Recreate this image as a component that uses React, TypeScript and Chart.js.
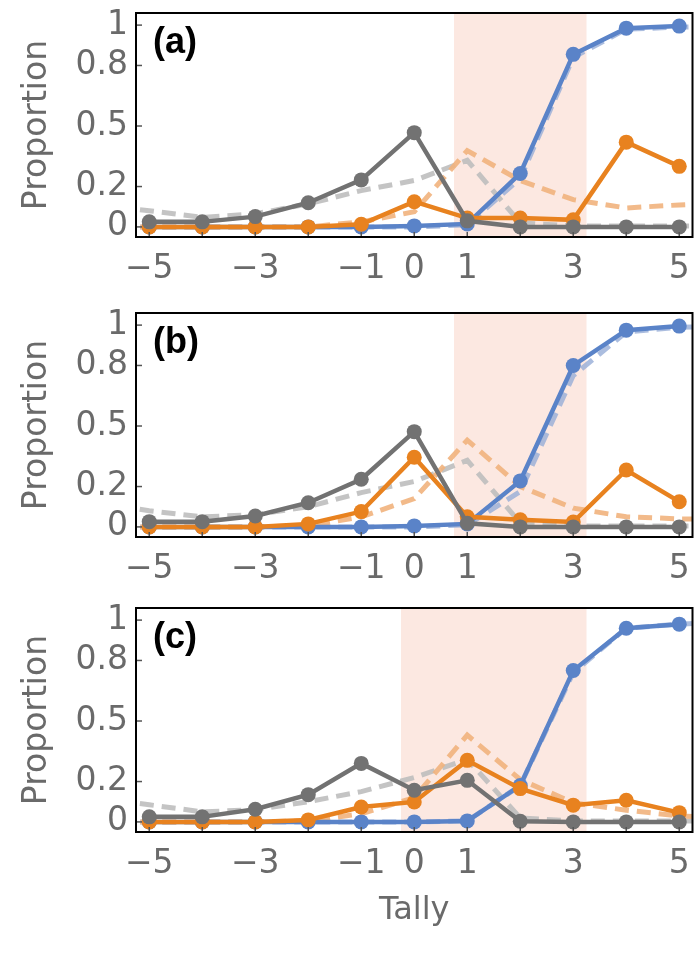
import React, { useEffect, useRef } from 'react';
import { Chart, registerables } from 'chart.js';

Chart.register(...registerables);

// ---------- data ----------
const tally = [-5, -4, -3, -2, -1, 0, 1, 2, 3, 4, 5];
const modelTally = [-6, -5, -4, -3, -2, -1, 0, 1, 2, 3, 4, 5, 6];
const xTickValues = [-5, -3, -1, 0, 1, 3, 5];
const xMarkValues = [-5, -4, -3, -2, -1, 0, 1, 2, 3, 4, 5];
const yTickValues = [0, 0.2, 0.5, 0.8, 1];
const panelLabels = ['(a)', '(b)', '(c)'];

// Panel (a)
const blueA = [0, 0, 0, 0, 0, 0.005, 0.015, 0.265, 0.855, 0.985, 0.995];
const orangeA = [0, 0, 0, 0, 0.013, 0.125, 0.044, 0.044, 0.035, 0.42, 0.3];
const grayA = [0.025, 0.025, 0.051, 0.12, 0.233, 0.467, 0.03, 0, 0, 0, 0];
const blueModelA = [0, 0, 0, 0, 0, 0, 0, 0.01, 0.24, 0.84, 0.98, 0.99, 0.995];
const orangeModelA = [0, 0, 0, 0, 0, 0.025, 0.075, 0.378, 0.23, 0.135, 0.094, 0.109, 0.12];
const grayModelA = [0.11, 0.08, 0.047, 0.065, 0.114, 0.18, 0.23, 0.33, 0.02, 0.005, 0.005, 0.005, 0.005];
const shadeA = [0.75, 3.25];

// Panel (b)
const blueB = [0, 0, 0, 0, 0, 0.005, 0.015, 0.228, 0.8, 0.975, 0.995];
const orangeB = [0, 0, 0, 0.015, 0.076, 0.345, 0.05, 0.035, 0.024, 0.282, 0.125];
const grayB = [0.026, 0.026, 0.054, 0.12, 0.236, 0.472, 0.018, 0, 0, 0, 0];
const blueModelB = [0, 0, 0, 0, 0, 0, 0, 0.01, 0.175, 0.75, 0.965, 0.99, 0.995];
const orangeModelB = [0, 0, 0, 0, 0.005, 0.05, 0.14, 0.43, 0.2, 0.093, 0.05, 0.04, 0.035];
const grayModelB = [0.12, 0.08, 0.05, 0.06, 0.1, 0.17, 0.225, 0.33, 0.02, 0.005, 0.005, 0.005, 0.005];
const shadeB = [0.75, 3.25];

// Panel (c)
const blueC = [0, 0, 0, 0, 0, 0, 0.005, 0.18, 0.75, 0.96, 0.98];
const orangeC = [0, 0, 0, 0.01, 0.074, 0.099, 0.305, 0.165, 0.083, 0.107, 0.046];
const grayC = [0.025, 0.025, 0.063, 0.135, 0.29, 0.157, 0.206, 0.003, 0, 0, 0];
const blueModelC = [0, 0, 0, 0, 0, 0, 0, 0.005, 0.18, 0.74, 0.96, 0.98, 0.99];
const orangeModelC = [0, 0, 0, 0, 0.005, 0.04, 0.12, 0.43, 0.21, 0.095, 0.058, 0.03, 0.02];
const grayModelC = [0.12, 0.085, 0.05, 0.06, 0.1, 0.15, 0.22, 0.31, 0.02, 0.005, 0.005, 0.005, 0.005];
const shadeC = [-0.25, 3.25];

// ---------- styles ----------
const BLUE = '#5a83c8';
const ORANGE = '#e8821f';
const GRAY = '#727272';
const BLUE_L = 'rgba(150,172,215,0.8)';
const ORANGE_L = 'rgba(241,178,125,0.9)';
const GRAY_L = 'rgba(190,190,190,0.9)';
const SHADE = '#fce8e1';
const TEXT = '#6a6a6a';
const FONT = 'DejaVu Sans';

type PanelCfg = {
  top: number;
  height: number;
  padTop: number;
  axisH: number;
  showTitle: boolean;
  label: string;
  shade: number[];
  blue: number[];
  orange: number[];
  gray: number[];
  blueM: number[];
  orangeM: number[];
  grayM: number[];
};

const panels: PanelCfg[] = [
  { top: 0, height: 300, padTop: 13, axisH: 63, showTitle: false, label: panelLabels[0], shade: shadeA,
    blue: blueA, orange: orangeA, gray: grayA, blueM: blueModelA, orangeM: orangeModelA, grayM: grayModelA },
  { top: 300, height: 300, padTop: 13, axisH: 63, showTitle: false, label: panelLabels[1], shade: shadeB,
    blue: blueB, orange: orangeB, gray: grayB, blueM: blueModelB, orangeM: orangeModelB, grayM: grayModelB },
  { top: 600, height: 353, padTop: 8, axisH: 121, showTitle: true, label: panelLabels[2], shade: shadeC,
    blue: blueC, orange: orangeC, gray: grayC, blueM: blueModelC, orangeM: orangeModelC, grayM: grayModelC },
];

const pts = (xs: number[], ys: number[]) => xs.map((x, i) => ({ x, y: ys[i] }));

function solid(data: any, color: string, order: number) {
  return {
    data,
    borderColor: color,
    backgroundColor: color,
    pointBackgroundColor: color,
    pointBorderWidth: 0,
    pointRadius: 7.5,
    borderWidth: 4.5,
    order,
    clip: 0,
  };
}
function dashed(data: any, color: string, order: number) {
  return {
    data,
    borderColor: color,
    backgroundColor: color,
    borderWidth: 5,
    borderDash: [14, 8],
    pointRadius: 0,
    order,
    clip: 0,
  };
}

function Panel({ cfg }: { cfg: PanelCfg }) {
  const ref = useRef<HTMLCanvasElement>(null);
  useEffect(() => {
    const decor = {
      id: 'decor',
      beforeDatasetsDraw(chart: any) {
        const { ctx, chartArea, scales } = chart;
        const x0 = scales.x.getPixelForValue(cfg.shade[0]);
        const x1 = scales.x.getPixelForValue(cfg.shade[1]);
        ctx.save();
        ctx.fillStyle = SHADE;
        ctx.fillRect(x0, chartArea.top, x1 - x0, chartArea.bottom - chartArea.top);
        ctx.restore();
      },
      afterDatasetsDraw(chart: any) {
        const { ctx, chartArea, scales } = chart;
        ctx.save();
        // inner tick marks
        ctx.strokeStyle = '#555';
        ctx.lineWidth = 1.5;
        xMarkValues.forEach((v) => {
          const px = scales.x.getPixelForValue(v);
          ctx.beginPath();
          ctx.moveTo(px, chartArea.bottom);
          ctx.lineTo(px, chartArea.bottom - 5);
          ctx.stroke();
        });
        yTickValues.forEach((v) => {
          const py = scales.y.getPixelForValue(v);
          ctx.beginPath();
          ctx.moveTo(chartArea.left, py);
          ctx.lineTo(chartArea.left + 6, py);
          ctx.stroke();
        });
        // frame
        ctx.strokeStyle = '#000';
        ctx.lineWidth = 2;
        ctx.strokeRect(chartArea.left, chartArea.top, chartArea.right - chartArea.left, chartArea.bottom - chartArea.top);
        // panel label
        ctx.fillStyle = '#000';
        ctx.font = 'bold 36px "Liberation Sans", Arial, sans-serif';
        ctx.textAlign = 'left';
        ctx.textBaseline = 'alphabetic';
        ctx.fillText(cfg.label, chartArea.left + 17, chartArea.top + 40);
        ctx.restore();
      },
    };

    const chart = new Chart(ref.current as HTMLCanvasElement, {
      type: 'line',
      data: {
        datasets: [
          solid(pts(tally, cfg.gray), GRAY, 0),
          solid(pts(tally, cfg.orange), ORANGE, 1),
          solid(pts(tally, cfg.blue), BLUE, 2),
          dashed(pts(modelTally, cfg.orangeM), ORANGE_L, 3),
          dashed(pts(modelTally, cfg.grayM), GRAY_L, 4),
          dashed(pts(modelTally, cfg.blueM), BLUE_L, 5),
        ] as any,
      },
      options: {
        responsive: false,
        animation: false,
        events: [],
        layout: { padding: { top: cfg.padTop, right: 4, left: 0, bottom: 0 } },
        plugins: { legend: { display: false }, tooltip: { enabled: false } },
        scales: {
          x: {
            type: 'linear',
            min: -5.25,
            max: 5.25,
            grid: { display: false, drawTicks: false },
            border: { display: false },
            ticks: {
              font: { family: FONT, size: 33 },
              color: TEXT,
              padding: 13,
              autoSkip: false,
              maxRotation: 0,
              callback: (v: any) => (Number(v) < 0 ? '\u2212' + Math.abs(Number(v)) : String(v)),
            },
            title: {
              display: cfg.showTitle,
              text: 'Tally',
              color: TEXT,
              font: { family: FONT, size: 32 },
              padding: { top: 0, bottom: 23 },
            },
            afterBuildTicks: (s: any) => {
              s.ticks = xTickValues.map((v) => ({ value: v }));
            },
            afterFit: (s: any) => {
              s.height = cfg.axisH;
              s.paddingLeft = 0;
              s.paddingRight = 0;
              s.paddingTop = 0;
              s.paddingBottom = 0;
            },
          },
          y: {
            type: 'linear',
            min: -0.05,
            max: 1.06,
            grid: { display: false, drawTicks: false },
            border: { display: false },
            ticks: {
              font: { family: FONT, size: 33 },
              color: TEXT,
              padding: 8,
              autoSkip: false,
              callback: (v: any) => String(v),
            },
            title: {
              display: true,
              text: 'Proportion',
              color: TEXT,
              font: { family: FONT, size: 33 },
              padding: { top: 18, bottom: 0 },
            },
            afterBuildTicks: (s: any) => {
              s.ticks = yTickValues.map((v) => ({ value: v }));
            },
            afterFit: (s: any) => {
              s.width = 136;
              s.paddingLeft = 0;
              s.paddingRight = 0;
              s.paddingTop = 0;
              s.paddingBottom = 0;
            },
          },
        },
      } as any,
      plugins: [decor],
    });
    return () => chart.destroy();
  }, []);
  return (
    <canvas
      ref={ref}
      width={700}
      height={cfg.height}
      style={{ position: 'absolute', left: 0, top: cfg.top, width: 700, height: cfg.height, display: 'block' }}
    />
  );
}

export default function App() {
  useEffect(() => {
    document.body.style.margin = '0';
  }, []);
  return (
    <div style={{ position: 'relative', width: 700, height: 953, background: '#fff', overflow: 'hidden' }}>
      {panels.map((p, i) => (
        <Panel key={i} cfg={p} />
      ))}
    </div>
  );
}
